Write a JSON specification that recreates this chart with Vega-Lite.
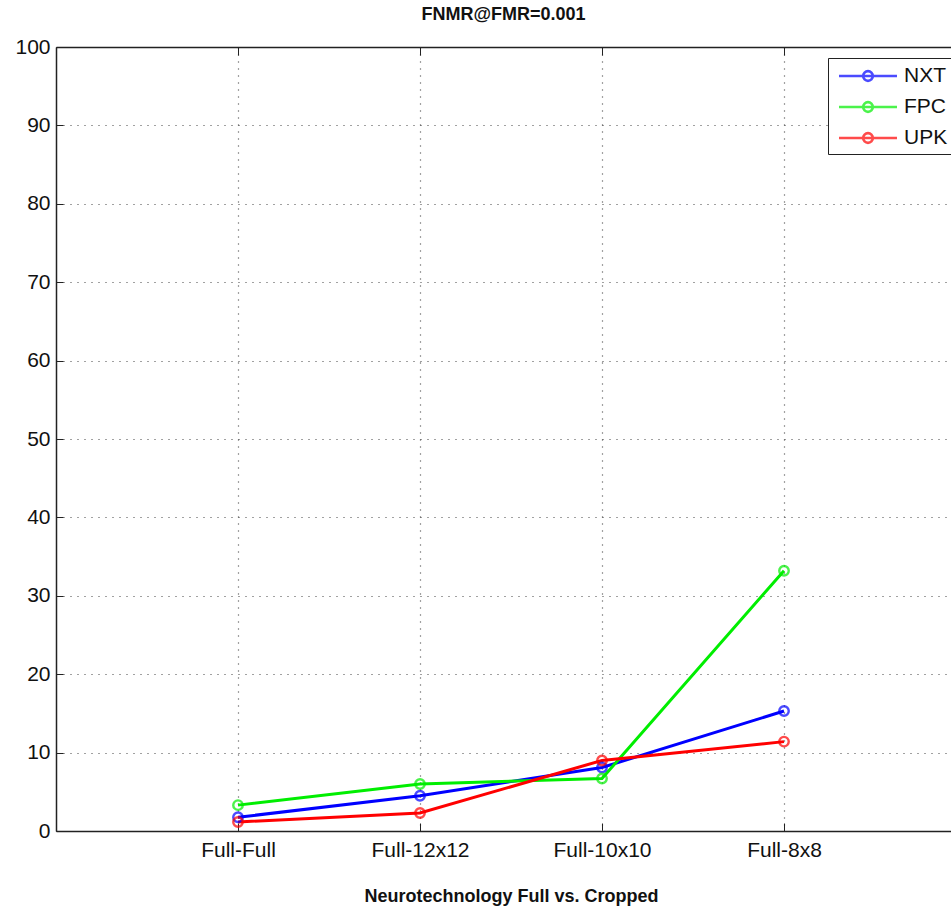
{
  "$schema": "https://vega.github.io/schema/vega-lite/v6.json",
  "autosize": "none",
  "width": 895,
  "height": 784,
  "padding": {"left": 56, "top": 47, "right": 0, "bottom": 81},
  "background": "white",
  "config": {
    "font": "Liberation Sans",
    "view": {"stroke": null},
    "axis": {"domainColor": "#222", "tickColor": "#222", "labelColor": "#111", "labelFont": "Liberation Sans", "labelFontSize": 21, "titleFont": "Liberation Sans"}
  },
  "title": {"text": "FNMR@FMR=0.001", "fontSize": 18, "fontWeight": "bold", "font": "Liberation Sans", "color": "#111", "offset": 12},
  "data": {"values": [
    {"setting": "Full-Full", "algorithm": "NXT", "fnmr": 1.75},
    {"setting": "Full-12x12", "algorithm": "NXT", "fnmr": 4.5},
    {"setting": "Full-10x10", "algorithm": "NXT", "fnmr": 8.1},
    {"setting": "Full-8x8", "algorithm": "NXT", "fnmr": 15.3},
    {"setting": "Full-Full", "algorithm": "FPC", "fnmr": 3.3},
    {"setting": "Full-12x12", "algorithm": "FPC", "fnmr": 6.0},
    {"setting": "Full-10x10", "algorithm": "FPC", "fnmr": 6.7},
    {"setting": "Full-8x8", "algorithm": "FPC", "fnmr": 33.2},
    {"setting": "Full-Full", "algorithm": "UPK", "fnmr": 1.15},
    {"setting": "Full-12x12", "algorithm": "UPK", "fnmr": 2.3},
    {"setting": "Full-10x10", "algorithm": "UPK", "fnmr": 9.0},
    {"setting": "Full-8x8", "algorithm": "UPK", "fnmr": 11.4}
  ]},
  "resolve": {"axis": {"x": "independent"}},
  "encoding": {
    "y": {"field": "fnmr", "type": "quantitative",
      "scale": {"domain": [0, 100], "nice": false, "zero": true},
      "axis": {"title": null, "values": [0,10,20,30,40,50,60,70,80,90,100], "tickSize": -7, "labelPadding": 13, "grid": true, "gridDash": [1, 6], "gridColor": "#444", "gridWidth": 1.2, "domainWidth": 1.5}
    },
    "color": {"field": "algorithm", "type": "nominal",
      "scale": {"domain": ["NXT", "FPC", "UPK"], "range": ["#0000ff", "#00ee00", "#ff0000"]},
      "legend": {"title": null, "orient": "none", "legendX": 772, "legendY": 11,
        "strokeColor": "#222", "fillColor": "white", "padding": 5,
        "symbolType": "M-2.5,0H2.5M-0.42,0A0.42,0.42 0 1,1 0.42,0A0.42,0.42 0 1,1 -0.42,0",
        "symbolSize": 538, "symbolStrokeWidth": 2.6, "symbolOffset": 22, "symbolFillColor": "transparent",
        "labelOffset": 23, "labelFontSize": 21, "labelFont": "Liberation Sans", "labelColor": "#111", "rowPadding": 7}
    }
  },
  "layer": [
    {
      "mark": {"type": "line", "strokeWidth": 3},
      "encoding": {
        "x": {"field": "setting", "type": "ordinal",
          "scale": {"type": "point", "domain": ["Full-Full", "Full-12x12", "Full-10x10", "Full-8x8"], "range": [0, 910], "padding": 1},
          "axis": {"orient": "bottom", "title": "Neurotechnology Full vs. Cropped", "titleFontSize": 18, "titleFontWeight": "bold", "titleColor": "#111", "titlePadding": 27,
            "labelAngle": 0, "tickSize": -8, "labelPadding": 16, "grid": true, "gridDash": [1, 6], "gridColor": "#444", "gridWidth": 1.2, "domainWidth": 1.5}
        }
      }
    },
    {
      "mark": {"type": "point", "shape": "circle", "filled": false, "size": 90, "strokeWidth": 2.4},
      "encoding": {
        "x": {"field": "setting", "type": "ordinal",
          "axis": {"orient": "top", "title": null, "labels": false, "tickSize": -8, "grid": false, "domainWidth": 1.5}
        }
      }
    }
  ]
}
